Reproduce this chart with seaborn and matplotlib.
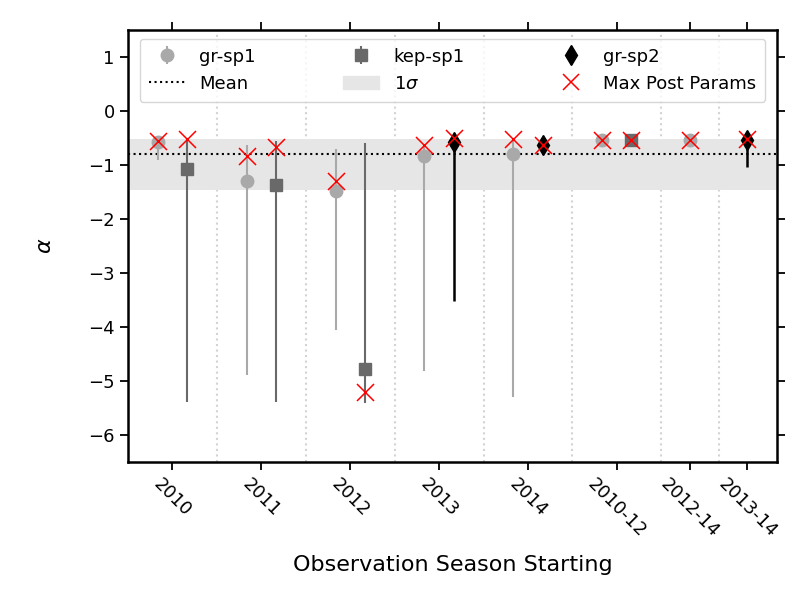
import numpy as np
import pandas as pd
import matplotlib
matplotlib.use("Agg")
import matplotlib.pyplot as plt
import seaborn as sns
from matplotlib.lines import Line2D
from matplotlib.patches import Patch

# --------------------------
# Data
# --------------------------
season_labels = ["2010", "2011", "2012", "2013", "2014", "2010-12", "2012-14", "2013-14"]
season_pos = [0, 1, 2, 3, 4, 5, 5.82, 6.47]
divider_pos = [0.5, 1.5, 2.5, 3.5, 4.5, 5.5, 6.15]

# gr-sp1
gr1_x = [-0.165, 0.835, 1.835, 2.835, 3.835, 4.835, 5.82]
gr1_y = [-0.58, -1.29, -1.48, -0.83, -0.79, -0.54, -0.53]
gr1_lo = [-0.91, -4.88, -4.06, -4.82, -5.29, -0.58, -0.57]
gr1_hi = [-0.50, -0.63, -0.71, -0.62, -0.55, -0.50, -0.49]
gr1_max = [-0.55, -0.84, -1.29, -0.63, -0.52, -0.54, -0.53]

# kep-sp1
kep_x = [0.165, 1.165, 2.165, 5.165]
kep_y = [-1.08, -1.37, -4.78, -0.54]
kep_lo = [-5.39, -5.39, -5.40, -0.58]
kep_hi = [-0.54, -0.555, -0.60, -0.50]
kep_max = [-0.52, -0.67, -5.20, -0.54]

# gr-sp2
gr2_x = [3.165, 4.165, 6.47]
gr2_y = [-0.57, -0.63, -0.54]
gr2_lo = [-3.52, -0.78, -1.03]
gr2_hi = [-0.44, -0.49, -0.40]
gr2_max = [-0.50, -0.63, -0.51]

alpha_mean = -0.795
sigma_lo = -1.47
sigma_hi = -0.52

# --------------------------
# Plot
# --------------------------
sns.set_style("ticks")
plt.rcParams["font.family"] = ["DejaVu Sans"]
for key in ["text.color", "axes.labelcolor", "xtick.color", "ytick.color", "axes.edgecolor"]:
    plt.rcParams[key] = "black"

fig, ax = plt.subplots(figsize=(8, 6), dpi=100)
fig.subplots_adjust(left=0.16, right=0.971, top=0.95, bottom=0.23)

for xd in divider_pos:
    ax.axvline(xd, color="lightgray", ls=":", lw=1.5, zorder=0)

band = ax.axhspan(sigma_lo, sigma_hi, color="#e6e6e6", lw=0, zorder=0.5)
mean_line = ax.axhline(alpha_mean, color="black", ls=":", lw=1.5, zorder=1)


def draw_series(x, y, lo, hi, color, marker, ms, lw):
    y = np.array(y)
    yerr = [y - np.array(lo), np.array(hi) - y]
    return ax.errorbar(x, y, yerr=yerr, fmt=marker, color=color, ms=ms,
                       elinewidth=lw, capsize=0, zorder=3)


h_gr1 = draw_series(gr1_x, gr1_y, gr1_lo, gr1_hi, "darkgray", "o", 9, 1.5)
h_kep = draw_series(kep_x, kep_y, kep_lo, kep_hi, "dimgray", "s", 9, 1.5)
h_gr2 = draw_series(gr2_x, gr2_y, gr2_lo, gr2_hi, "black", "d", 10, 1.8)

max_df = pd.DataFrame({
    "x": gr1_x + kep_x + gr2_x,
    "y": gr1_max + kep_max + gr2_max,
})
sns.scatterplot(data=max_df, x="x", y="y", marker="x", color="red", s=150,
                linewidth=1.1, zorder=4, ax=ax, legend=False)

ax.set_xlim(-0.5, 6.8)
ax.set_ylim(-6.5, 1.5)
ax.set_xticks(season_pos)
ax.set_xticklabels(season_labels, rotation=-45, ha="center", fontsize=13)
ax.set_yticks(range(-6, 2))
ax.tick_params(axis="y", labelsize=13)
ax.tick_params(which="both", direction="out", length=6, width=1.3,
               top=True, right=True)
for sp in ax.spines.values():
    sp.set_linewidth(1.8)
    sp.set_visible(True)

ax.set_xlabel("Observation Season Starting", fontsize=16, labelpad=10)
ax.set_ylabel(r"$\alpha$", fontsize=16, labelpad=24)

x_handle = Line2D([], [], ls="none", marker="x", color="red", ms=12, mew=1.1)
sig_handle = Patch(color="#e6e6e6")
handles = [h_gr1, mean_line, h_kep, sig_handle, h_gr2, x_handle]
labels = ["gr-sp1", "Mean", "kep-sp1", r"1$\sigma$", "gr-sp2", "Max Post Params"]
ax.legend(handles, labels, ncol=3, loc="upper center",
          bbox_to_anchor=(0.5, 0.98), borderaxespad=0, borderpad=0.5,
          columnspacing=4.85, labelspacing=0.5, fontsize=13, frameon=True)

plt.savefig("out.png", dpi=100)
plt.close()
